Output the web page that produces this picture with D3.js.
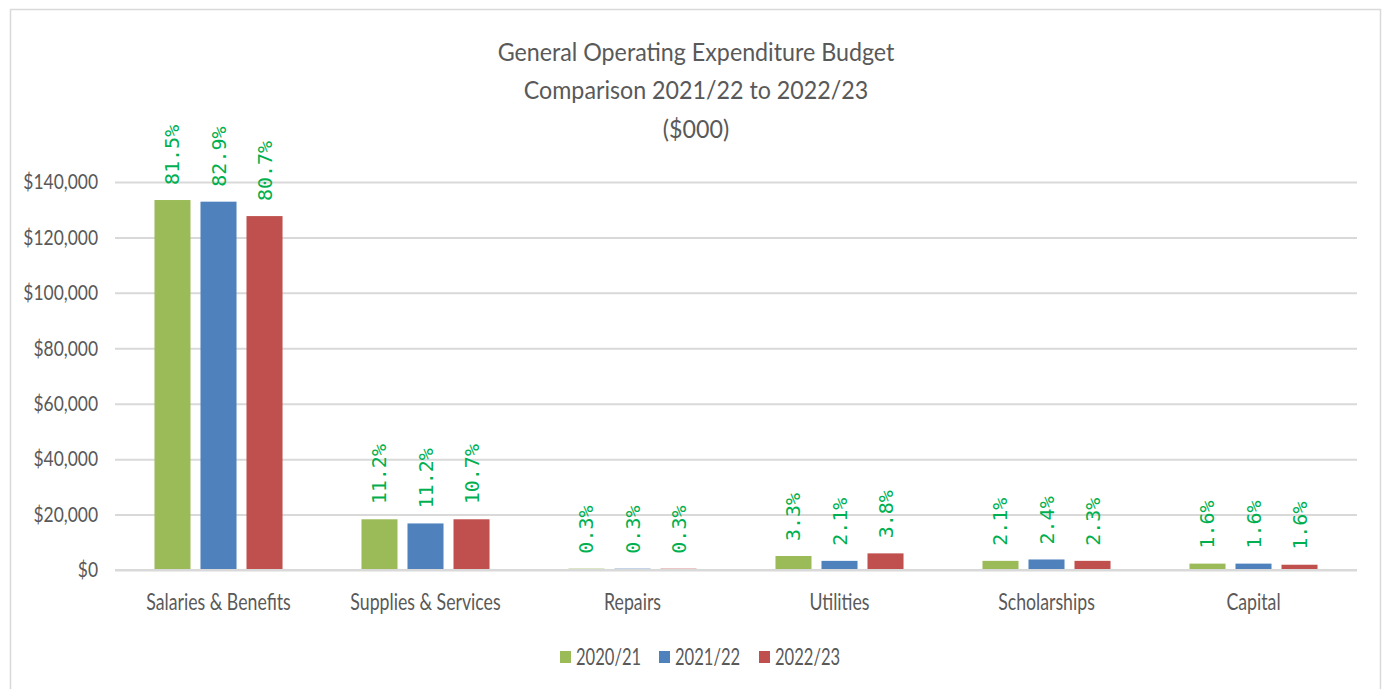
<!DOCTYPE html>
<html>
<head>
<meta charset="utf-8">
<script src="https://cdn.jsdelivr.net/npm/d3@7"></script>
<style>
	body { margin: 0; background: #fff; }
	svg { display: block; }
	.axis text { font-family: Lato, sans-serif; fill: #595959; }
	.grid line { stroke: #d9d9d9; stroke-width: 2; }
	.grid .domain { display: none; }
</style>
</head>
<body>
<div id="chart"></div>
<script>

// budget categories and the three fiscal years
let categories = ["Salaries & Benefits", "Supplies & Services", "Repairs", "Utilities", "Scholarships", "Capital"];
let years = ["2020/21", "2021/22", "2022/23"];

// spending in $000
let values2021 = [133500, 18300, 490, 5050, 3300, 2300];
let values2122 = [132900, 16800, 480, 3300, 3800, 2300];
let values2223 = [127700, 18300, 475, 6000, 3300, 1900];

// share of the total budget, printed above each bar
let pct2021 = [81.5, 11.2, 0.3, 3.3, 2.1, 1.6];
let pct2122 = [82.9, 11.2, 0.3, 2.1, 2.4, 1.6];
let pct2223 = [80.7, 10.7, 0.3, 3.8, 2.3, 1.6];

let yTicks = [0, 20000, 40000, 60000, 80000, 100000, 120000, 140000];
let titleLines = ["General Operating Expenditure Budget", "Comparison 2021/22 to 2022/23", "($000)"];

let colors = ["#9bbb59", "#4f81bd", "#c0504d"];

let series = [
	{year: years[0], values: values2021, pct: pct2021},
	{year: years[1], values: values2122, pct: pct2122},
	{year: years[2], values: values2223, pct: pct2223}
];

// the reference text looks narrow, so squeeze it horizontally
function squeeze(sel, sx) {
	sel.attr("transform", function () {
		let x = +this.getAttribute("x") || 0;
		return "translate(" + x + ",0) scale(" + sx + ",1) translate(" + (-x) + ",0)";
	});
}

let width = 1386, height = 689;
let margin = {top: 182, right: 29, bottom: 119, left: 115};

let svg = d3.select("#chart").append("svg")
	.attr("width", width)
	.attr("height", height);

svg.append("rect")
	.attr("x", 10.5).attr("y", 9.5)
	.attr("width", 1370).attr("height", 700)
	.attr("fill", "#fff")
	.attr("stroke", "#d9d9d9")
	.attr("stroke-width", 1.5);

let x0 = d3.scaleBand()
	.domain(categories)
	.range([margin.left, width - margin.right]);

let x1 = d3.scaleBand()
	.domain(years)
	.range([0, x0.bandwidth()])
	.paddingInner(0.217)
	.paddingOuter(0.858);

let y = d3.scaleLinear()
	.domain([0, 140000])
	.range([height - margin.bottom, margin.top]);

// gridlines + y tick labels
let yAxis = svg.append("g")
	.attr("class", "axis grid")
	.attr("transform", "translate(" + margin.left + ",0)")
	.call(d3.axisLeft(y)
		.tickValues(yTicks)
		.tickFormat(d3.format("$,"))
		.tickSize(-(width - margin.left - margin.right))
		.tickPadding(17));

yAxis.selectAll("text").style("font-size", "21px");
squeeze(yAxis.selectAll("text"), 0.83);

// category labels
let xAxis = svg.append("g")
	.attr("class", "axis")
	.attr("transform", "translate(0," + (height - margin.bottom) + ")")
	.call(d3.axisBottom(x0).tickSize(0).tickPadding(24));

xAxis.select(".domain").remove();
xAxis.selectAll("text").style("font-size", "23px");
squeeze(xAxis.selectAll("text"), 0.77);

// bars
let groups = svg.selectAll(".series")
	.data(series)
	.enter()
	.append("g")
	.attr("class", "series")
	.attr("fill", (d, i) => colors[i]);

groups.selectAll("rect")
	.data(s => s.values.map((v, i) => ({key: categories[i], year: s.year, value: v})))
	.enter()
	.append("rect")
	.attr("x", d => x0(d.key) + x1(d.year))
	.attr("y", d => y(d.value))
	.attr("width", x1.bandwidth())
	.attr("height", d => y(0) - y(d.value));

// zero line sits over the bar bottoms
svg.append("line")
	.attr("x1", margin.left)
	.attr("x2", width - margin.right)
	.attr("y1", y(0))
	.attr("y2", y(0))
	.attr("stroke", "#d9d9d9")
	.attr("stroke-width", 2);

// percentage labels, rotated
groups.selectAll(".pct")
	.data(s => s.values.map((v, i) => ({key: categories[i], year: s.year, value: v, pct: s.pct[i]})))
	.enter()
	.append("text")
	.attr("class", "pct")
	.attr("transform", d => {
		let cx = x0(d.key) + x1(d.year) + x1.bandwidth() / 2;
		return "translate(" + cx + "," + (y(d.value) - 15) + ") rotate(-90)";
	})
	.attr("dy", "0.35em")
	.attr("fill", "#00b050")
	.style("font-family", "'DejaVu Sans Mono', monospace")
	.style("font-size", "20px")
	.text(d => d.pct.toFixed(1) + "%");

// title
let title = svg.append("g").attr("class", "title");
title.selectAll("text")
	.data(titleLines)
	.enter()
	.append("text")
	.attr("x", 696)
	.attr("y", (d, i) => 61 + i * 38.5)
	.attr("text-anchor", "middle")
	.attr("fill", "#595959")
	.style("font-family", "Lato, sans-serif")
	.style("font-size", "25px")
	.text(d => d);
squeeze(title.selectAll("text"), 0.93);

// legend
let legend = svg.append("g").attr("class", "legend");
let legendX = [560, 659, 759];

let item = legend.selectAll("g")
	.data(years)
	.enter()
	.append("g");

item.append("rect")
	.attr("x", (d, i) => legendX[i])
	.attr("y", 651)
	.attr("width", 11)
	.attr("height", 12)
	.attr("fill", (d, i) => colors[i]);

item.append("text")
	.attr("x", (d, i) => legendX[i] + 16)
	.attr("y", 665)
	.attr("fill", "#595959")
	.style("font-family", "Lato, sans-serif")
	.style("font-size", "23px")
	.text(d => d);
squeeze(item.selectAll("text"), 0.72);

</script>
</body>
</html>
